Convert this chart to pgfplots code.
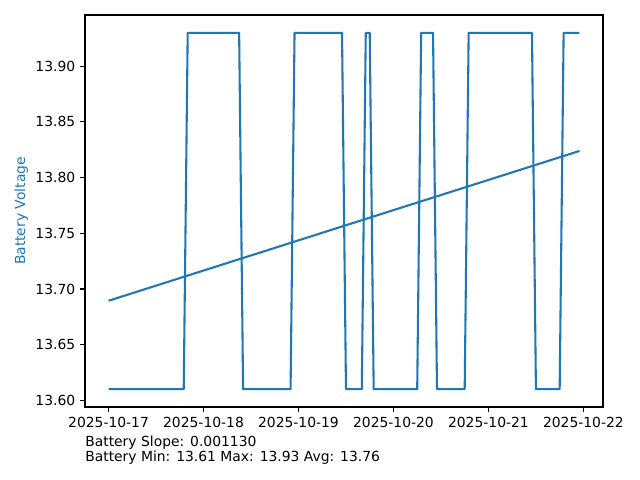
\documentclass[border=0pt]{standalone}
\usepackage{fontspec}
\setmainfont{DejaVu Sans}
\usepackage{pgfplots}
\pgfplotsset{compat=1.18}
\definecolor{tabblue}{HTML}{1F77B4}
\begin{document}
\begin{tikzpicture}[x=1pt,y=1pt]
\path[fill=white] (0,0) rectangle (460.8,345.6);
\begin{axis}[
  at={(61.2pt,52.56pt)}, anchor=south west,
  scale only axis, width=372.96pt, height=282.24pt,
  xmin=-5.95, xmax=124.95, ymin=13.594, ymax=13.946,
  xtick={0,24,48,72,96,120},
  xticklabels={2025-10-17,2025-10-18,2025-10-19,2025-10-20,2025-10-21,2025-10-22},
  ytick={13.60,13.65,13.70,13.75,13.80,13.85,13.90},
  yticklabel style={/pgf/number format/.cd,fixed,fixed zerofill,precision=2},
  /pgf/number format/assume math mode=true,
  tick align=outside, tick pos=left,
  major tick length=3.5pt,
  tick style={black, line width=0.8pt},
  axis line style={line width=0.8pt},
  ticklabel style={font=\fontsize{10}{12}\selectfont},
  ylabel={Battery Voltage},
  every axis y label/.style={at={(ticklabel cs:0.5)}, rotate=90, anchor=south, yshift=-1.5pt, text=tabblue, font=\fontsize{10}{12}\selectfont},
  clip=false,
]
\addplot[tabblue, line width=1.5pt, line join=round] coordinates {
(0,13.61) (19,13.61) (20,13.93) (33,13.93) (34,13.61) (46,13.61) (47,13.93) (59,13.93)
(60,13.61) (64,13.61) (65,13.93) (66,13.93) (67,13.61) (78,13.61) (79,13.93) (82,13.93)
(83,13.61) (90,13.61) (91,13.93) (107,13.93) (108,13.61) (114,13.61) (115,13.93) (119,13.93)
};
\addplot[tabblue, line width=1.5pt] coordinates {(0,13.6894) (119,13.8239)};
\end{axis}
\node[anchor=base west, inner sep=0pt, font=\fontsize{10}{12}\selectfont] at (61.2,24.2) {Battery Slope: 0.001130};
\node[anchor=base west, inner sep=0pt, font=\fontsize{10}{12}\selectfont] at (61.2,13.2) {Battery Min: 13.61 Max: 13.93 Avg: 13.76};
\end{tikzpicture}
\end{document}
